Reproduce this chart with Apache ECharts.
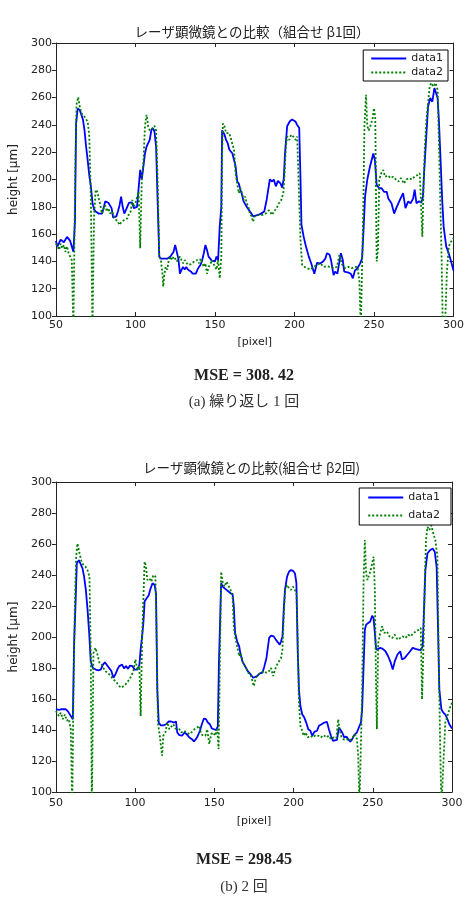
<!DOCTYPE html>
<html>
<head>
<meta charset="utf-8">
<script src="https://cdn.jsdelivr.net/npm/echarts@6/dist/echarts.min.js"></script>
<style>
  html, body { margin: 0; padding: 0; background: #fff; }
  #chart { width: 467px; height: 905px; }
</style>
</head>
<body>
<div id="chart"></div>
<script>
// Two stacked MATLAB-style comparison plots (laser microscope vs. estimate).

const TITLES = ["レーザ顕微鏡との比較（組合せ β1回）", "レーザ顕微鏡との比較(組合せ β2回)"];
const MSE_TEXT = ["MSE = 308. 42", "MSE = 298.45"];
const CAPTIONS = ["(a) 繰り返し 1 回", "(b) 2 回"];
const SERIES_NAMES = ["data1", "data2"];

// --- top chart (a) ---
const A_D1_X = [50,51,53,55,57,59,60,61,62,62.7,63.7,65,66,67,68,69,70,71,72,73,74,75,77,79,80,81,83,84,85,86,88,89,90,91,92,93,94,95,96,97,98,99,100,101,102,103,104,105,106,107,108,109,110,111,112,113,114,115,116,118,120,122,124,125,126,127,128,129,130,131,132,133,135,136,137,138,139,140,141,142,143,144,145,146,147,148,150,151,152,153,154,154.5,156,157,158,159,160,161,162,163,164,165,166,167,168,170,171,172,173,174,175,177,179,181,182.5,184.5,186,187,188.3,189.6,191.3,192.3,193.3,194,195.4,197,198.5,199.6,200.6,201.7,203,203.8,204.4,205.8,207,209,210.4,212.5,214.2,216.3,218,219.4,220.4,222,223,224.6,225.6,227,228.3,229.2,230.4,231.3,232.5,234,235.4,236.7,238,239.6,241.3,242.5,243.3,244.4,245.8,247.5,249.6,250.6,251.7,253.3,254.8,256.3,258,259,261,262.7,264,266.3,268.3,269.8,271.5,273,274.6,275.6,276.7,278.3,279.8,280.8,281.5,283,284,285.4,286.7,288,289,290,290.8,291.7,292.3,292.9,293.8,295.4,297,298.5,300];
const A_D1_Y = [155,151,156,154,158,155,151,147,170,241,252,251,250,244,236,224,214,203,195,183,178,176.5,175,175,179,184,183,183,179,172,173,176.5,181,187.5,180,175,177.5,176.5,183,184,183,179,179,180,181,207,200,209.5,219,224,225,229,236,237.7,235,224,183,143.5,142,142,142,143.5,147,152,151,142,131,134,136,134,136,134,132.5,131,130,131,134,136,137.5,141,146,152,148.4,143.5,142,140.5,140,143.5,141,165.5,180,236,233,229,226.7,222,220.5,219,218,209.5,198.5,197,192.5,189,184,180,179,176.5,175,173,174,174,175,176.5,185,200,198.5,200,195,199,197,194,201,218,239,242.5,244,245,242.5,240,237.7,200,167,158,152,143.5,139,131,139,138.6,140,142,146,145,141,130,132.5,131,140,146,141,132.5,133.3,131.8,131,127.6,133.3,135,138.6,142,160,187.5,200,209.5,219,214,196,193.6,193.6,191,191,186,182.6,175,179,185,190,179,184,182.6,186,192.5,182.6,184,183,187.5,204.6,234,253.5,259.7,257,267,268,259.7,244,219,218,185,165.5,151,146,140,133.3];

const A_D2_X = [50,51,52,53,54,55,56,57,58,59,60,61,62,62.5,63,64,65,66,67,68,69,70,71,72,73,74,75,76,77,78,79,80,81,82,83,84,85,86,87,88,89,90,91,92,93,94,95,96,97,98,99,100,101,102,103,104,105,106,107,107.5,108,109,110,111,112,113,114,115,116,117,117.5,118,119,120,121,122,123,124,125,126,127,128,129,130,131,133,135,137,139,140,141,142,143,144,145,146,147,148,149,150,151,152,153,154,154.5,155,156,157,158,159,160,161,162,163,164,165,166,167,168,169,170,171,172,173,174,175,177.7,179.8,181.9,184,186,187,188.8,190.2,191.7,193,193.8,194.6,195.4,196.7,197.9,199.2,200,200.8,201.7,203,203.8,204.8,206.3,208,210,212,214.2,216.3,218.3,220.4,222.5,224.6,226.7,228.3,229.8,231.9,234,236,238,239.6,240.8,241.7,242.5,243.3,244,245,245.8,246.7,248,249.2,250,250.8,251.7,252.5,253.3,254.6,255.8,257,258.8,260.4,262,263.8,265.4,267,268.8,270.4,272,273.8,275.4,277,278.8,279.8,280.4,281.3,282,283,284.2,285,286,287.5,288.8,290,290.8,291.7,292.5,293.3,294.6,295.8,297,298.5,300];
const A_D2_Y = [153,151,148.4,153,149.6,152,147,151,146,143.5,141,90,190,229,255,260.4,253.5,248.6,248,246,244,242.5,231.5,185,90,173,192.5,191,186,181,175,179,181,176.5,179,175,176.5,175,171.6,170.4,169,166.7,168.5,168.5,170.4,170.4,171.6,175,176.5,185,180,183,184,191,149.6,200,212,239,247.4,244,239,236,235,237.7,239.4,236,197,143.5,141,131,121.5,128.7,136,134,141,143.5,141,143.5,142,140,141,143.5,141,138.6,141,137.5,138,140,141,138.6,142,141,136,138.6,131,136,137.5,141,138.6,136,134,141,127.6,143.5,217,241,239,234,233.5,234,230,229,221.8,204.6,197,190,193.6,190,185,187.5,182.6,180,175,173,169,173,174,174,175,177.5,174,176.5,179,182.6,185,190,204.6,224,231.5,229,232.8,231.5,232.8,229,231.5,185,155.7,137.5,136,135,134,136,137.5,138.6,136,136.5,136,135,136,145,138,135,136,135,136,136,126.5,90,90,180,239,262,239,236,240,245,252.3,245,140,148.4,200,204.6,207,202,203,201,202,200,198.5,201,197,200,201,200,202,203,204.6,206,158,200,224,244,258.4,268,270.7,268,270.7,265.8,229,185,143.5,90,90,131,151,154.5,157];

// --- bottom chart (b) ---
const B_D1_X = [50,52,53.6,54.8,56.3,57.8,59.4,60.7,61.5,62.4,63.2,64.5,65.7,66.8,67.8,68.9,70,71,72,73.3,75.2,76.7,78.3,79.6,80.9,82,83.6,85,86.3,87.6,88.8,90,91.8,93,94.3,95.5,96.8,98.3,99.7,101.4,102.7,103.5,104.4,105.2,106,107.3,108.6,109.8,111,112.3,113.2,114,114.9,116.1,117.8,119.5,121.2,122.8,124.5,125.8,126.6,127.9,129.6,131.2,132.5,134.2,135.9,137.1,138.4,139.6,140.9,142.1,143.4,144.7,145.9,147.2,148.4,149.7,151,152.2,152.9,153.5,154.3,155.2,156.4,157.7,158.9,160.2,161.5,162.3,163.1,164.4,165.7,166.5,167.8,169.4,171.1,172.8,174.5,175.7,177,178.7,180.4,181.6,182.9,184.6,185.8,187.5,188.8,190,191.3,192.1,193,193.8,194.6,195.9,197.1,198.4,199.7,200.9,201.8,202.6,203.4,204.3,205.5,206.8,208,209.3,210.6,211.8,213.1,214.8,216,217.7,219.4,221.1,222.3,223.6,224.9,226.1,227.4,228.6,229.5,230.7,232,233.3,234.5,235.8,237,238.3,240,241.2,242.5,243.3,244.2,245,245.8,247.1,248.4,249.6,250.5,251.3,252.1,253.4,254.7,256.3,258,259.7,261.4,262.6,263.9,265.6,267.3,268.5,270.2,271.9,273.6,275.2,276.9,278.6,280.3,281.5,282.4,283.2,284.5,286.1,287.8,289.1,290.3,291.2,292,293.3,294.5,295.8,297.1,298.3,300];
const B_D1_Y = [153.4,153,153.4,154.4,153.4,151.7,149,147,196,221.8,247.5,249.6,248.6,244.3,239,230.4,217.5,202.6,184.4,180,179,178.5,179,182,183.7,183.3,180,178,173.7,176,179,181.2,182.2,179.7,181.2,179.5,181.6,181.2,179,179,182,192,200.4,209,223,225,227,231.4,234.7,233.6,228,166,144.8,143,143,143.7,145.5,145.5,144.8,145.5,138.4,136.7,136.3,138.4,137.3,135.2,134.1,132.6,134.1,136.3,139.5,143.7,147.4,147,144.8,143.7,141,140.5,140,142.2,183.3,183.3,234.7,232.5,231.4,230.4,229.3,228.2,227.8,219.7,202.6,197.2,194,189,184,181.2,178,176,173.7,172.6,174.8,176.5,177,181.2,186.5,199.4,200.9,200.4,198.3,197.2,195,197.2,200.4,217.5,230.4,239,242.1,243.2,242.7,241,234.7,191.9,166.2,155.5,150,148,144.8,140.5,139.5,136.3,138.8,139.5,142.7,143.7,144.8,145.2,140.5,136.3,133,133,133.7,141.6,142.7,138.4,135.2,135.8,134.1,132.4,134.1,136.7,138.4,141.6,144.8,153.4,181.2,204.7,208,209,210,213.7,212.2,202.6,191.9,192.3,193,192.3,190.8,187.6,183.3,179,184.4,188.7,190.8,185.5,186.5,188.7,190.8,193,192.3,191.9,191.5,194,219.7,243.2,253.9,256,257.1,255,245.3,204.7,166.2,153.4,151.2,150,147,143.7,141];

const B_D2_X = [50,51.9,53.1,54.4,55.7,56.9,58.2,59.4,60.3,61.1,62,62.8,63.6,64.9,66.2,67.4,68.7,69.9,71.2,72,72.7,73.7,75,76.2,77.5,78.8,80,81.3,82.5,83.8,85,86.3,87.6,88.8,90,91.4,92.6,93.9,95.1,96.4,97.6,98.9,100.2,101.4,102.7,103.5,104.4,105.2,106,106.9,107.7,109,110.2,111.5,112.8,113.6,114.4,115.7,117,117.8,119.1,120.3,121.6,122.8,124.1,125.4,126.6,127.9,129.1,130.8,132.5,134.2,135.9,137.5,139.2,140.5,141.7,143,144.3,145.5,146.8,148,149.3,150.5,151.8,152.7,153.5,154.3,155.2,156.4,157.7,158.9,160.2,161.5,162.3,163.1,164.4,165.7,166.5,168.2,169.9,171.5,173.2,174.9,176.2,177.8,179.5,181.2,182.9,184.6,185.8,187.1,188.3,189.6,190.8,192.1,193,193.8,194.6,195.9,197.1,198.4,199.7,200.9,201.8,202.6,203.4,204.3,205.1,206.4,207.6,208.9,210.6,212.3,213.9,215.6,217.3,219,220.6,222.3,223.6,225.3,227,228.2,229,230.3,232,233.7,235.3,237,238.7,240,240.8,241.6,242.5,243.3,244.2,245,245.8,246.7,248,249.2,250.5,251.3,252.1,252.6,253.4,254.7,255.9,257.2,258.9,260.5,262.2,263.9,265.6,267.3,269,270.6,272.3,274,275.7,277.3,279,280.3,281.1,282,282.8,283.6,284.5,285.7,287,288.2,289.5,290.8,291.6,292.5,293.3,294.5,295.8,297.1,298.3,300];
const B_D2_Y = [152.3,149,151.2,147,150,146,147,140.5,90,166,221.8,251.8,260.3,254,248.6,246.4,245.3,243.2,239,187.6,90,189.7,193,188.7,183.3,182.2,180,178,176.9,175.8,174.8,172.6,171.5,170,168.3,167.3,168,169.4,170.5,172.6,174.8,178,185.5,179,181.2,149,198.3,224,248.6,245.3,236.8,237.9,235.7,240,239,198.3,144.8,135.2,123.4,136.3,138.4,144.8,140.5,141.6,143.7,140.9,141.6,140.5,138.4,139.5,138.4,137.3,138.8,140.5,141.6,142.7,137.3,136.3,136.3,140.5,130.9,137.3,138.4,136.3,140.5,127.7,183.3,242.1,235.7,232.5,235.7,234.7,230.4,226.1,206.9,200.4,194,187.6,189.7,183.3,180,176.9,174.8,168.3,173.7,175.8,176.9,178,176.9,178,180,174.8,179,182.2,183.3,186.5,192,213,230.4,233.6,231.4,230.4,232.5,230.4,228.2,200.4,157.6,142.7,140.5,136.3,138.4,135.2,136.3,135.2,136.7,136.3,135.2,136.7,135.2,136.3,134.1,135.2,134.6,147,140.5,135.2,133.7,134.1,133,134.6,137.3,134.1,123.4,90,90,166,236.8,262.5,241,236.8,241,245.3,251.8,230.4,166,140.5,196,202.6,206.9,202.6,203.6,200.4,199.3,201.5,198.3,199.3,200.4,199.3,201.5,200.4,202.6,203.6,204.7,205.8,159.8,194,234.7,262.5,271,268.9,272,266.7,262.5,251.8,187.6,132,90,90,145,149,153.4,157.6];

const X_MIN = 50, X_MAX = 300, X_STEP = 50;
const Y_MIN = 100, Y_MAX = 300, Y_STEP = 20;

const AXIS_COLOR = "#222";
const TICK_FONT = { fontFamily: "DejaVu Sans", fontSize: 11, color: "#222" };

// layout of the two panels (pixels), chosen to match the reference page
const PANELS = [
  { left: 54, top: 43, width: 400, height: 273, titleY: 32, mseY: 376, capY: 402,
    labelMargin: 4, nameGap: 21, legendTop: 50, legendRight: 19, legendGap: 3, legendPad: [3, 5, 3, 7] },
  { left: 55, top: 482, width: 397, height: 310, titleY: 468, mseY: 860, capY: 887,
    labelMargin: 6, nameGap: 24, legendTop: 488, legendRight: 16, legendGap: 7, legendPad: [4, 11, 4, 8] },
];

const DATA = [
  [[A_D1_X, A_D1_Y], [A_D2_X, A_D2_Y]],
  [[B_D1_X, B_D1_Y], [B_D2_X, B_D2_Y]],
];

function pairs(xs, ys) {
  return xs.map((x, i) => [x, ys[i]]);
}

const grid = [], xAxis = [], yAxis = [], series = [], legend = [], graphic = [];

PANELS.forEach((p, k) => {
  grid.push({ left: p.left, top: p.top, width: p.width, height: p.height, containLabel: false });

  const xBase = { gridIndex: k, type: "value", min: X_MIN, max: X_MAX, interval: X_STEP,
    splitLine: { show: false }, axisLine: { show: true, onZero: false, lineStyle: { color: AXIS_COLOR, width: 1 } } };
  xAxis.push(Object.assign({}, xBase, {
    position: "bottom",
    axisTick: { inside: true, length: 4, lineStyle: { color: AXIS_COLOR } },
    axisLabel: Object.assign({ margin: p.labelMargin }, TICK_FONT),
    name: "[pixel]", nameLocation: "middle", nameGap: p.nameGap,
    nameTextStyle: { fontFamily: "DejaVu Sans", fontSize: 11, color: "#222" },
  }));
  xAxis.push(Object.assign({}, xBase, {
    position: "top",
    axisTick: { inside: true, length: 4, lineStyle: { color: AXIS_COLOR } },
    axisLabel: { show: false },
  }));

  const yBase = { gridIndex: k, type: "value", min: Y_MIN, max: Y_MAX, interval: Y_STEP,
    splitLine: { show: false }, axisLine: { show: true, onZero: false, lineStyle: { color: AXIS_COLOR, width: 1 } } };
  yAxis.push(Object.assign({}, yBase, {
    position: "left",
    axisTick: { inside: false, length: 4, lineStyle: { color: AXIS_COLOR } },
    axisLabel: Object.assign({ margin: 4 }, TICK_FONT),
    name: "height [μm]", nameLocation: "middle", nameGap: 34, nameRotate: 90,
    nameTextStyle: { fontFamily: "DejaVu Sans", fontSize: 12, color: "#222" },
  }));
  yAxis.push(Object.assign({}, yBase, {
    position: "right",
    axisTick: { inside: true, length: 4, lineStyle: { color: AXIS_COLOR } },
    axisLabel: { show: false },
  }));

  const [[x1, y1], [x2, y2]] = DATA[k];
  series.push({
    name: SERIES_NAMES[0], type: "line", xAxisIndex: 2 * k, yAxisIndex: 2 * k,
    data: pairs(x1, y1), symbol: "none", showSymbol: false, clip: true,
    lineStyle: { color: "#0000ff", width: 1.8, type: "solid" }, itemStyle: { color: "#0000ff" },
  });
  series.push({
    name: SERIES_NAMES[1], type: "line", xAxisIndex: 2 * k, yAxisIndex: 2 * k,
    data: pairs(x2, y2), symbol: "none", showSymbol: false, clip: true,
    lineStyle: { color: "#008000", width: 1.8, type: [2, 2] }, itemStyle: { color: "#008000" },
  });

  legend.push({
    data: SERIES_NAMES, orient: "vertical", top: p.legendTop, right: p.legendRight,
    itemWidth: 35, itemHeight: 12, itemGap: p.legendGap, padding: p.legendPad,
    borderColor: "#000", borderWidth: 1, backgroundColor: "#fff", borderRadius: 0,
    itemStyle: { opacity: 0 },
    textStyle: { fontFamily: "DejaVu Sans", fontSize: 11, color: "#222" },
    selectedMode: false,
  });

  const cx = p.left + p.width / 2;
  graphic.push({ type: "text", x: cx - 2, y: p.titleY,
    style: { text: TITLES[k], font: "13.5px 'Noto Sans CJK JP'", fill: "#222", align: "center", verticalAlign: "middle" } });
  graphic.push({ type: "text", x: 244, y: p.mseY,
    style: { text: MSE_TEXT[k], font: "bold 16px 'Liberation Serif'", fill: "#222", align: "center", verticalAlign: "middle" } });
  graphic.push({ type: "text", x: 244, y: p.capY,
    style: { text: CAPTIONS[k], font: "15px 'Liberation Serif', 'Noto Sans CJK JP'", fill: "#333", align: "center", verticalAlign: "middle" } });
});

const chart = echarts.init(document.getElementById("chart"));
chart.setOption({
  animation: false,
  backgroundColor: "#fff",
  grid, xAxis, yAxis, series, legend, graphic,
});
</script>
</body>
</html>
